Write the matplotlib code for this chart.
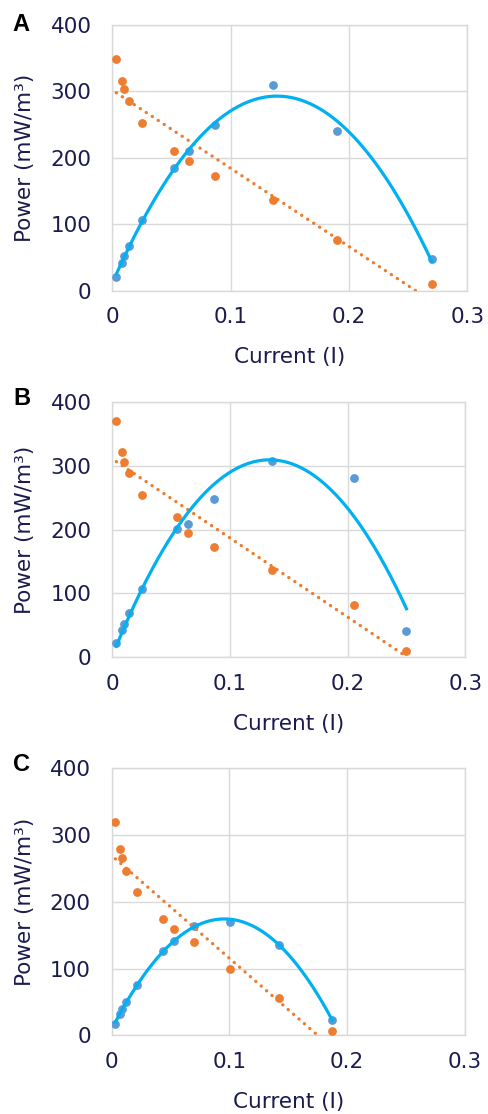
import numpy as np
import matplotlib.pyplot as plt

# readings for the three panels (current in A, power / voltage on the shared y axis)
current_a = [0.0034, 0.0079, 0.0099, 0.0144, 0.0254, 0.052, 0.065, 0.0865, 0.136, 0.1896, 0.270]
power_a = [20.6, 41.7, 51.7, 68, 107, 184, 211, 249, 309, 240, 48]
voltage_a = [349, 316, 304, 286, 253, 210, 195, 173, 136.5, 76, 10.5]

current_b = [0.0034, 0.0079, 0.0099, 0.0144, 0.0255, 0.055, 0.0646, 0.0861, 0.1357, 0.205, 0.250]
power_b = [22.4, 43, 52, 69, 107, 201, 209, 248, 307, 280, 41]
voltage_b = [370, 321, 306, 288, 254, 220, 194, 173, 136, 82, 10]

current_c = [0.0031, 0.0071, 0.0091, 0.0122, 0.0212, 0.0436, 0.053, 0.070, 0.1008, 0.1424, 0.1874]
power_c = [17, 32, 39, 50, 76, 127, 142, 164, 170, 135, 23]
voltage_c = [320, 279, 265, 246, 215, 174, 159, 140, 100, 56, 7]

panel_letters = ["A", "B", "C"]
x_ticks = [0, 0.1, 0.2, 0.3]
x_tick_labels = ["0", "0.1", "0.2", "0.3"]
y_ticks = [0, 100, 200, 300, 400]

NAVY = "#1B1B4F"
ORANGE = "#ED7D31"
BLUE = "#5B9BD5"
CYAN = "#00B0F0"
GRID = "#D9D9D9"

W, H = 488, 1114
fig = plt.figure(figsize=(W / 100, H / 100), dpi=100)
plt.rcParams['font.family'] = ['DejaVu Sans']

# axes boxes in pixels: left, top, right, bottom
boxes = [(112.3, 25, 467.3, 290.7), (112.3, 401.7, 465.3, 657.3), (111.7, 768.3, 465, 1035.3)]
letter_pos = [(12.7, 30.7), (13.3, 405), (12.7, 771)]

data = [(current_a, power_a, voltage_a),
        (current_b, power_b, voltage_b),
        (current_c, power_c, voltage_c)]

for i, (cur, pw, vt) in enumerate(data):
    l, t, r, b = boxes[i]
    ax = fig.add_axes([l / W, 1 - b / H, (r - l) / W, (b - t) / H])
    cur = np.array(cur)

    ax.scatter(cur, vt, s=40, color=ORANGE, zorder=3, linewidths=0)
    ax.scatter(cur, pw, s=40, color=BLUE, zorder=3, linewidths=0)

    # trendlines like the spreadsheet: linear for voltage, 2nd order for power
    xs = np.linspace(cur.min(), cur.max(), 200)
    lin = np.polyfit(cur, vt, 1)
    quad = np.polyfit(cur, pw, 2)
    ax.plot(xs, np.polyval(lin, xs), color=ORANGE, lw=2.4, linestyle=(0, (0.05, 2.1)),
            dash_capstyle='round', zorder=4)
    ax.plot(xs, np.polyval(quad, xs), color=CYAN, lw=2.3, zorder=4)

    ax.set_xlim(0, 0.3)
    ax.set_ylim(0, 400)
    ax.set_xticks(x_ticks)
    ax.set_xticklabels(x_tick_labels)
    ax.set_yticks(y_ticks)
    ax.grid(True, color=GRID, lw=1)
    ax.set_axisbelow(True)
    for s in ax.spines.values():
        s.set_color(GRID)
        s.set_linewidth(1)
    ax.tick_params(length=0, labelsize=15.5, labelcolor=NAVY)
    ax.tick_params(axis='x', pad=12)
    ax.tick_params(axis='y', pad=15)

    ax.set_xlabel("Current (I)", fontsize=15.5, color=NAVY, va='center')
    ax.xaxis.set_label_coords(0.5, -66.5 / (b - t))
    ax.set_ylabel("Power (mW/m³)", fontsize=15.5, color=NAVY, va='center')
    ax.yaxis.set_label_coords(-(l - 25) / (r - l), 0.5)

    lx, ly = letter_pos[i]
    fig.text(lx / W, 1 - ly / H, panel_letters[i], fontsize=17, fontweight='bold',
             family=['Liberation Sans', 'DejaVu Sans'], va='baseline', ha='left')

fig.savefig("out.png", dpi=100)
